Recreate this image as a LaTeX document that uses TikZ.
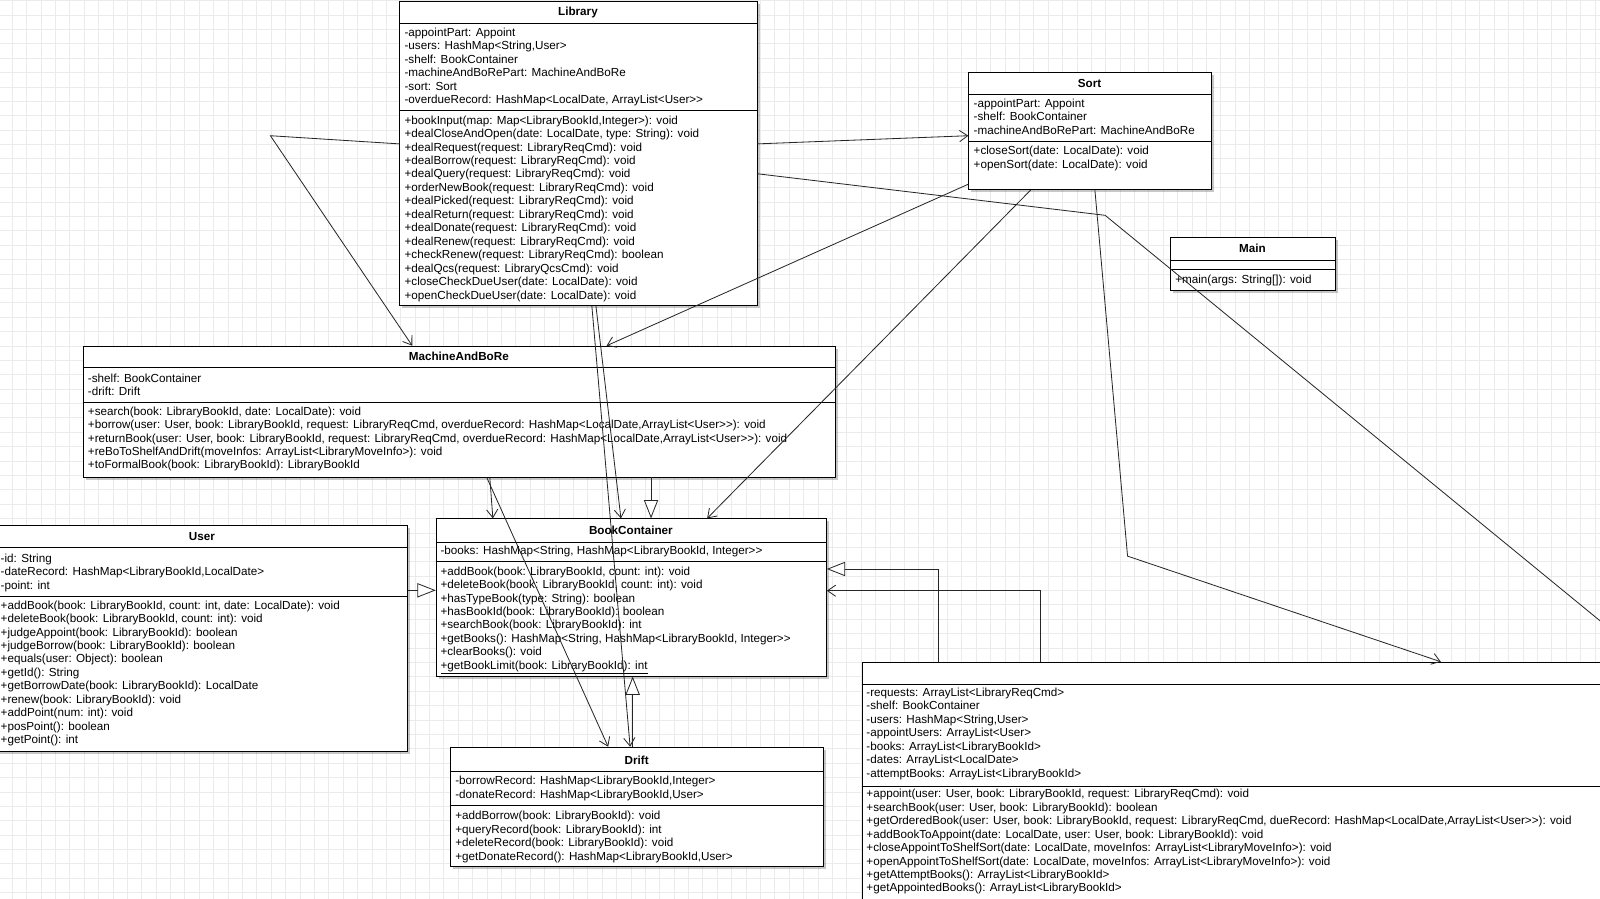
\documentclass[tikz,border=0pt]{standalone}
\usepackage{fontspec}
\setmainfont{Liberation Sans}
\usetikzlibrary{arrows.meta,calc,shadows}
\newcommand\umlfont{\fontsize{11.45}{13.2}\selectfont}
\newcommand\umllines[4]{\foreach \itm [count=\i from 0] in {#4} {\node[txt] (#1\i) at (#2,{#3+13.2*\i+4}) {\itm};}}
\tikzset{
 box/.style={draw=black, line width=0.8pt, fill=white, inner sep=0pt, anchor=north west,
   drop shadow={shadow xshift=2.5pt, shadow yshift=-2.5pt, opacity=0.22, fill=black}},
 txt/.style={anchor=base west, inner sep=0pt, font=\umlfont},
 ttl/.style={anchor=base, inner sep=0pt, font=\umlfont\bfseries},
 sepline/.style={draw=black, line width=0.8pt},
 conn/.style={draw=black!85, line width=0.8pt},
 assoc/.style={conn, -{Straight Barb[length=8pt,width=11pt]}},
 gen/.style={conn, -{Triangle[length=18pt,width=14pt,fill=white]}},
 gridline/.style={draw=black!8, line width=0.6pt}
}
\begin{document}
\begin{tikzpicture}[x=1pt,y=-1pt]
\useasboundingbox (0,0) rectangle (1568,881);
\clip (0,0) rectangle (1568,881);
\fill[white] (0,0) rectangle (1568,881);
\foreach \k in {0,...,111} \draw[gridline] ({11.9+14.1*\k},0) -- ++(0,881);
\foreach \k in {0,...,62} \draw[gridline] (0,{0.5+14.1*\k}) -- ++(1568,0);

% ---------- Library
\node[box, minimum width=350.2pt, minimum height=298.1pt] (lib) at (391.3,0.8) {};
\draw[sepline] (391.3,22.9) -- (741.5,22.9);
\draw[sepline] (391.3,107.8) -- (741.5,107.8);
\node[ttl] (libT) at (566.4,14.8) {Library};
\umllines{liba}{396.3}{31.6}{{-appointPart: Appoint},{-users: HashMap<String,User>},{-shelf: BookContainer},{-machineAndBoRePart: MachineAndBoRe},{-sort: Sort},{-overdueRecord: HashMap<LocalDate, ArrayList<User>{}>}}
\umllines{libm}{396.3}{117.6}{{+bookInput(map: Map<LibraryBookId,Integer>): void},{+dealCloseAndOpen(date: LocalDate, type: String): void},{+dealRequest(request: LibraryReqCmd): void},{+dealBorrow(request: LibraryReqCmd): void},{+dealQuery(request: LibraryReqCmd): void},{+orderNewBook(request: LibraryReqCmd): void},{+dealPicked(request: LibraryReqCmd): void},{+dealReturn(request: LibraryReqCmd): void},{+dealDonate(request: LibraryReqCmd): void},{+dealRenew(request: LibraryReqCmd): void},{+checkRenew(request: LibraryReqCmd): boolean},{+dealQcs(request: LibraryQcsCmd): void},{+closeCheckDueUser(date: LocalDate): void},{+openCheckDueUser(date: LocalDate): void}}

% ---------- Sort
\node[box, minimum width=237.5pt, minimum height=114.6pt] (sort) at (949,70.9) {};
\draw[sepline] (949,92.4) -- (1186.5,92.4);
\draw[sepline] (949,138.8) -- (1186.5,138.8);
\node[ttl] (sortT) at (1067.75,85.7) {Sort};
\umllines{sorta}{954}{101.3}{{-appointPart: Appoint},{-shelf: BookContainer},{-machineAndBoRePart: MachineAndBoRe}}
\umllines{sortm}{954}{147.7}{{+closeSort(date: LocalDate): void},{+openSort(date: LocalDate): void}}

% ---------- Main
\node[box, minimum width=161.7pt, minimum height=51.6pt] (main) at (1146.6,232.6) {};
\draw[sepline] (1146.6,254.8) -- (1308.3,254.8);
\draw[sepline] (1146.6,263.6) -- (1308.3,263.6);
\node[ttl] (mainT) at (1227.45,247.4) {Main};
\node[txt] (mainm0) at (1151.6,277.7) {+main(args: String[]): void};

% ---------- MachineAndBoRe
\node[box, minimum width=737.3pt, minimum height=128.3pt] (mab) at (81,338.8) {};
\draw[sepline] (81,360) -- (818.3,360);
\draw[sepline] (81,394.3) -- (818.3,394.3);
\node[ttl] (mabT) at (449.65,353.5) {MachineAndBoRe};
\umllines{maba}{86}{370.8}{{-shelf: BookContainer},{-drift: Drift}}
\umllines{mabm}{86}{402.8}{{+search(book: LibraryBookId, date: LocalDate): void},{+borrow(user: User, book: LibraryBookId, request: LibraryReqCmd, overdueRecord: HashMap<LocalDate,ArrayList<User>{}>): void},{+returnBook(user: User, book: LibraryBookId, request: LibraryReqCmd, overdueRecord: HashMap<LocalDate,ArrayList<User>{}>): void},{+reBoToShelfAndDrift(moveInfos: ArrayList<LibraryMoveInfo>): void},{+toFormalBook(book: LibraryBookId): LibraryBookId}}

% ---------- BookContainer
\node[box, minimum width=382.5pt, minimum height=154.2pt] (bc) at (427,508) {};
\draw[sepline] (427,531.5) -- (809.5,531.5);
\draw[sepline] (427,550.4) -- (809.5,550.4);
\node[ttl] (bcT) at (618.25,523.4) {BookContainer};
\umllines{bca}{431.5}{539}{{-books: HashMap<String, HashMap<LibraryBookId, Integer>{}>}}
\umllines{bcm}{431.5}{559.6}{{+addBook(book: LibraryBookId, count: int): void},{+deleteBook(book: LibraryBookId, count: int): void},{+hasTypeBook(type: String): boolean},{+hasBookId(book: LibraryBookId): boolean},{+searchBook(book: LibraryBookId): int},{+getBooks(): HashMap<String, HashMap<LibraryBookId, Integer>{}>},{+clearBooks(): void},{\underline{+getBookLimit(book: LibraryBookId): int}}}

% ---------- User
\node[box, minimum width=402.7pt, minimum height=221.2pt] (user) at (-3.5,514.5) {};
\draw[sepline] (-3.5,536.7) -- (399.2,536.7);
\draw[sepline] (-3.5,584) -- (399.2,584);
\node[ttl] (userT) at (197.85,529.9) {User};
\umllines{usera}{0.5}{547.2}{{-id: String},{-dateRecord: HashMap<LibraryBookId,LocalDate>},{-point: int}}
\umllines{userm}{0.5}{592.9}{{+addBook(book: LibraryBookId, count: int, date: LocalDate): void},{+deleteBook(book: LibraryBookId, count: int): void},{+judgeAppoint(book: LibraryBookId): boolean},{+judgeBorrow(book: LibraryBookId): boolean},{+equals(user: Object): boolean},{+getId(): String},{+getBorrowDate(book: LibraryBookId): LocalDate},{+renew(book: LibraryBookId): void},{+addPoint(num: int): void},{+posPoint(): boolean},{+getPoint(): int}}

% ---------- Drift
\node[box, minimum width=365.9pt, minimum height=116.9pt] (drift) at (441,731.8) {};
\draw[sepline] (441,756.2) -- (806.9,756.2);
\draw[sepline] (441,789.6) -- (806.9,789.6);
\node[ttl] (driftT) at (623.95,748.8) {Drift};
\umllines{drifta}{446}{765}{{-borrowRecord: HashMap<LibraryBookId,Integer>},{-donateRecord: HashMap<LibraryBookId,User>}}
\umllines{driftm}{446}{799.4}{{+addBorrow(book: LibraryBookId): void},{+queryRecord(book: LibraryBookId): int},{+deleteRecord(book: LibraryBookId): void},{+getDonateRecord(): HashMap<LibraryBookId,User>}}

% ---------- Appoint (title not shown)
\node[box, minimum width=860pt, minimum height=260pt] (app) at (844.4,648.5) {};
\draw[sepline] (844.4,670.6) -- (1704.4,670.6);
\draw[sepline] (844.4,770.3) -- (1704.4,770.3);
\umllines{appa}{848.9}{678.5}{{-requests: ArrayList<LibraryReqCmd>},{-shelf: BookContainer},{-users: HashMap<String,User>},{-appointUsers: ArrayList<User>},{-books: ArrayList<LibraryBookId>},{-dates: ArrayList<LocalDate>},{-attemptBooks: ArrayList<LibraryBookId>}}
\umllines{appm}{848.9}{777.7}{{+appoint(user: User, book: LibraryBookId, request: LibraryReqCmd): void},{+searchBook(user: User, book: LibraryBookId): boolean},{+getOrderedBook(user: User, book: LibraryBookId, request: LibraryReqCmd, dueRecord: HashMap<LocalDate,ArrayList<User>{}>): void},{+addBookToAppoint(date: LocalDate, user: User, book: LibraryBookId): void},{+closeAppointToShelfSort(date: LocalDate, moveInfos: ArrayList<LibraryMoveInfo>): void},{+openAppointToShelfSort(date: LocalDate, moveInfos: ArrayList<LibraryMoveInfo>): void},{+getAttemptBooks(): ArrayList<LibraryBookId>},{+getAppointedBooks(): ArrayList<LibraryBookId>}}

% ---------- waypoints
\coordinate (w1) at (265,133);
\coordinate (w3) at (1083,211);
\coordinate (w6) at (1105,545);

% ---------- connectors
\draw[assoc] ($(lib.north west)+(0,140.2)$) -- (w1) -- ($(mab.north west)+(323,0)$);
\draw[assoc] ($(lib.north east)+(0,140.2)$) -- ($(sort.north west)+(0,62.1)$);
\draw[assoc] ($(lib.north east)+(0,169.5)$) -- (w3) -- ($(app.north west)+(772.6,0)$);
\draw[assoc] ($(sort.north west)+(0,109.6)$) -- ($(mab.north west)+(513.5,0)$);
\draw[assoc] ($(sort.south west)+(61,0)$) -- ($(bc.north west)+(266,0)$);
\draw[assoc] ($(sort.south west)+(124,0)$) -- (w6) -- ($(app.north west)+(567.6,0)$);
\draw[assoc] ($(lib.south west)+(188.7,0)$) -- ($(drift.north west)+(176.5,0)$);
\draw[assoc] ($(lib.south west)+(192.7,0)$) -- ($(bc.north west)+(181.5,0)$);
\draw[assoc] ($(mab.south west)+(399,0)$) -- ($(bc.north west)+(56,0)$);
\draw[assoc] ($(mab.south west)+(396,0)$) -- ($(drift.north west)+(155,0)$);
\draw[gen] ($(mab.south west)+(557,0)$) -- ($(bc.north west)+(211,0)$);
\draw[gen] ($(user.north east)+(0,64)$) -- ($(bc.north west)+(0,70.5)$);
\draw[gen] ($(drift.north west)+(179,0)$) -- ($(bc.south west)+(193,0)$);
\draw[gen] ($(app.north west)+(75.2,0)$) |- ($(bc.north east)+(0,49.6)$);
\draw[assoc] ($(app.north west)+(175.5,0)$) |- ($(bc.north east)+(0,70.9)$);
\end{tikzpicture}
\end{document}
